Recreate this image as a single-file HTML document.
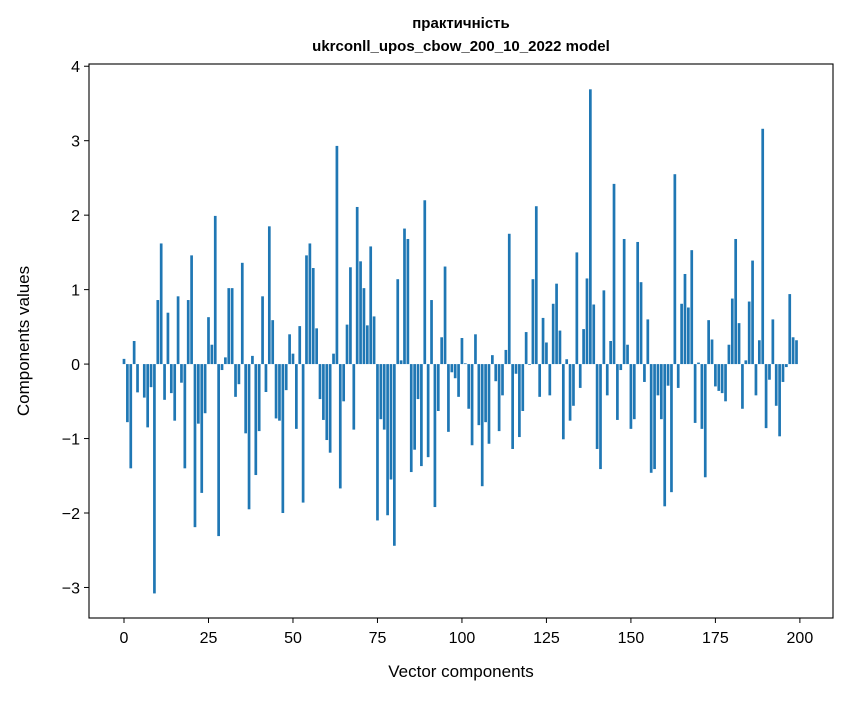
<!DOCTYPE html>
<html><head><meta charset="utf-8"><style>
body{margin:0;background:#fff;}
svg text{font-family:"Liberation Sans","DejaVu Sans",sans-serif;fill:#000;}
</style></head><body>
<svg id="chart" width="847" height="696" xmlns="http://www.w3.org/2000/svg">
<rect width="847" height="696" fill="#fff"/>
<text x="461" y="28" font-size="15" font-weight="bold" text-anchor="middle">практичність</text>
<text x="461" y="51" font-size="15" font-weight="bold" text-anchor="middle">ukrconll_upos_cbow_200_10_2022 model</text>
<g id="bars"></g>
<g id="axes"></g>
<text x="461" y="677" font-size="17" text-anchor="middle">Vector components</text>
<text transform="translate(29,341) rotate(-90)" font-size="17" text-anchor="middle">Components values</text>
</svg>
<script>
const values = [0.07,-0.78,-1.40,0.31,-0.38,0.0,-0.45,-0.85,-0.31,-3.08,
0.86,1.62,-0.48,0.69,-0.39,-0.76,0.91,-0.25,-1.40,0.86,
1.46,-2.19,-0.80,-1.73,-0.66,0.63,0.26,1.99,-2.31,-0.08,
0.09,1.02,1.02,-0.44,-0.27,1.36,-0.93,-1.95,0.11,-1.49,
-0.90,0.91,-0.375,1.85,0.59,-0.73,-0.76,-2.0,-0.35,0.40,
0.14,-0.87,0.51,-1.86,1.46,1.62,1.29,0.48,-0.47,-0.75,
-1.02,-1.19,0.14,2.93,-1.67,-0.50,0.53,1.30,-0.88,2.11,
1.38,1.02,0.52,1.58,0.64,-2.10,-0.74,-0.88,-2.03,-1.55,
-2.44,1.14,0.05,1.82,1.68,-1.45,-1.15,-0.47,-1.37,2.20,
-1.25,0.86,-1.92,-0.63,0.36,1.31,-0.91,-0.11,-0.19,-0.44,
0.35,0.01,-0.60,-1.09,0.40,-0.82,-1.64,-0.78,-1.07,0.12,
-0.23,-0.90,-0.42,0.19,1.75,-1.14,-0.13,-0.98,-0.63,0.43,
-0.01,1.14,2.12,-0.44,0.62,0.29,-0.42,0.81,1.08,0.45,
-1.01,0.065,-0.76,-0.56,1.50,-0.32,0.47,1.15,3.69,0.80,
-1.14,-1.41,0.99,-0.42,0.31,2.42,-0.75,-0.08,1.68,0.26,
-0.87,-0.74,1.64,1.10,-0.24,0.60,-1.46,-1.41,-0.42,-0.74,
-1.91,-0.29,-1.72,2.55,-0.32,0.81,1.21,0.76,1.53,-0.79,
0.02,-0.87,-1.52,0.59,0.33,-0.30,-0.36,-0.39,-0.50,0.26,
0.88,1.68,0.55,-0.60,0.05,0.84,1.39,-0.42,0.32,3.16,
-0.86,-0.21,0.60,-0.56,-0.97,-0.24,-0.04,0.94,0.36,0.32];
const xTicks = [0,25,50,75,100,125,150,175,200];
const yTicks = [-3,-2,-1,0,1,2,3,4];

const L=89,R=833,T=64,B=618;
const xMin=-10.36, xMax=209.8, yMin=-3.41, yMax=4.03;
function sx(v){return L+(v-xMin)/(xMax-xMin)*(R-L);}
function sy(v){return B-(v-yMin)/(yMax-yMin)*(B-T);}
const NS='http://www.w3.org/2000/svg';
const bars=document.getElementById('bars');
const axes=document.getElementById('axes');
values.forEach((v,i)=>{
  const r=document.createElementNS(NS,'rect');
  const x0=sx(i-0.4), x1=sx(i+0.4);
  const y0=sy(Math.max(v,0)), y1=sy(Math.min(v,0));
  r.setAttribute('x',x0);r.setAttribute('width',x1-x0);
  r.setAttribute('y',y0);r.setAttribute('height',Math.max(y1-y0,0.01));
  r.setAttribute('fill','#1f77b4');
  
  
  bars.appendChild(r);
});
const frame=document.createElementNS(NS,'rect');
frame.setAttribute('x',L);frame.setAttribute('y',T);frame.setAttribute('width',R-L);frame.setAttribute('height',B-T);
frame.setAttribute('fill','none');frame.setAttribute('stroke','#000');frame.setAttribute('stroke-width','1.1');


axes.appendChild(frame);
xTicks.forEach(t=>{
  const x=sx(t);
  const l=document.createElementNS(NS,'line');
  l.setAttribute('x1',x);l.setAttribute('x2',x);l.setAttribute('y1',B);l.setAttribute('y2',B+5);
  l.setAttribute('stroke','#000');
  
  
  axes.appendChild(l);
  const tx=document.createElementNS(NS,'text');
  tx.setAttribute('x',x);tx.setAttribute('y',B+25);tx.setAttribute('font-size','16');tx.setAttribute('text-anchor','middle');
  tx.textContent=t;
  
  
  axes.appendChild(tx);
});
yTicks.forEach(t=>{
  const y=sy(t);
  const l=document.createElementNS(NS,'line');
  l.setAttribute('x1',L-5);l.setAttribute('x2',L);l.setAttribute('y1',y);l.setAttribute('y2',y);
  l.setAttribute('stroke','#000');
  
  
  axes.appendChild(l);
  const tx=document.createElementNS(NS,'text');
  tx.setAttribute('x',L-9);tx.setAttribute('y',y+6);tx.setAttribute('font-size','16');tx.setAttribute('text-anchor','end');
  tx.textContent=t<0?'\u2212'+Math.abs(t):t;
  
  
  axes.appendChild(tx);
});
</script>
</body></html>
